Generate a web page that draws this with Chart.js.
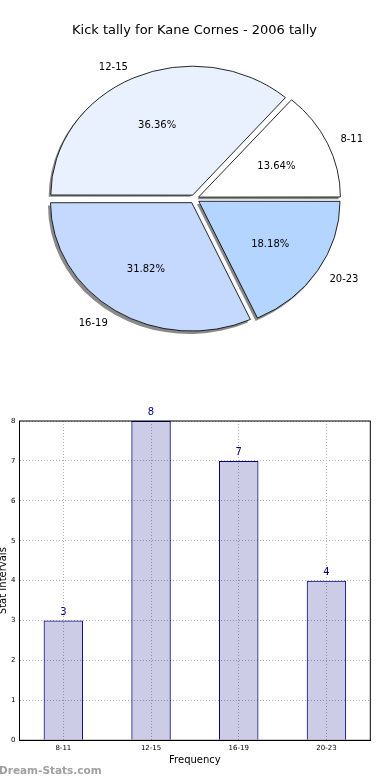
<!DOCTYPE html>
<html>
<head>
<meta charset="utf-8">
<script src="https://cdn.jsdelivr.net/npm/chart.js@4/dist/chart.umd.min.js"></script>
<style>
  html, body { margin: 0; padding: 0; background: #fff; }
  #page { position: relative; width: 390px; height: 780px; overflow: hidden; }
  #pieChart { position: absolute; left: 0; top: 0; }
  #barChart { position: absolute; left: 0; top: 390px; }
  #mark {
    position: absolute; left: -1px; top: 763px;
    font: bold 10.5px "DejaVu Sans", sans-serif; line-height: 14px; color: #a0a0a0;
  }
</style>
</head>
<body>
<div id="page">
  <canvas id="pieChart" width="390" height="359"></canvas>
  <canvas id="barChart" width="390" height="390"></canvas>
  <div id="mark">Dream-Stats.com</div>
</div>
<script>
// ===== data =====
const categories = ["8-11", "12-15", "16-19", "20-23"];
const kicks = [3, 8, 7, 4];
const sliceColors = ["#ffffff", "#eaf1fe", "#c5d8fe", "#b4d5ff"];

const chartTitle = "Kick tally for Kane Cornes - 2006 tally";
const xTitle = "Frequency";
const yTitle = "Stat Intervals";

Chart.defaults.font.family = "'DejaVu Sans', sans-serif";
Chart.defaults.color = "#000";

// ===== pie (matplotlib draws counter-clockwise from 3 o'clock, chart.js clockwise) =====
const pieLabels = categories.slice().reverse();
const pieValues = kicks.slice().reverse();
const pieColors = sliceColors.slice().reverse();
const total = kicks.reduce((a, b) => a + b, 0);

const PIE_R = 128;       // vertical radius
const STRETCH = 1.1;     // pie is an ellipse in the reference
const SHIFT = 5;         // explode distance

// chart.js moves an arc by offset/4*(1+fix), so undo that to get SHIFT px
function explodeOffset(ctx) {
  const v = ctx.dataset.data[ctx.dataIndex];
  const circ = (v / total) * Math.PI * 2;
  const fix = 1 - Math.sin(Math.min(Math.PI, circ));
  return (SHIFT * 4) / (1 + fix);
}

function arcGeom(arc) {
  const p = arc.getProps(["x", "y", "startAngle", "endAngle", "outerRadius"], true);
  p.mid = (p.startAngle + p.endAngle) / 2;
  return p;
}

const piePlugin = {
  id: "piePlugin",
  beforeDatasetsDraw(chart) {
    const ctx = chart.ctx;
    const meta = chart.getDatasetMeta(0);
    const cx = (chart.chartArea.left + chart.chartArea.right) / 2;
    const cy = (chart.chartArea.top + chart.chartArea.bottom) / 2;
    ctx.save();
    ctx.translate(cx, cy);
    ctx.scale(STRETCH, 1);
    ctx.translate(-cx, -cy);

    // shadows
    ctx.save();
    ctx.fillStyle = "rgba(60,60,60,0.6)";
    meta.data.forEach((arc) => {
      const g = arcGeom(arc);
      const ox = g.x + Math.cos(g.mid) * SHIFT - 2;
      const oy = g.y + Math.sin(g.mid) * SHIFT + 2.5;
      ctx.beginPath();
      ctx.moveTo(ox, oy);
      ctx.arc(ox, oy, g.outerRadius + 0.5, g.startAngle, g.endAngle);
      ctx.closePath();
      ctx.fill();
    });
    ctx.restore();
  },
  afterDatasetsDraw(chart) {
    const ctx = chart.ctx;
    ctx.restore();

    const meta = chart.getDatasetMeta(0);
    ctx.save();
    ctx.font = "10px 'DejaVu Sans', sans-serif";
    ctx.fillStyle = "#000";
    ctx.textBaseline = "middle";
    meta.data.forEach((arc, i) => {
      const g = arcGeom(arc);
      const c = Math.cos(g.mid), s = Math.sin(g.mid);
      // category label
      const d1 = SHIFT + 1.1 * g.outerRadius;
      ctx.textAlign = c >= 0 ? "left" : "right";
      ctx.fillText(pieLabels[i], g.x + c * d1 * STRETCH, g.y + s * d1 + 1.5);
      // percentage
      const d2 = SHIFT + 0.6 * g.outerRadius;
      ctx.textAlign = "center";
      const pct = ((pieValues[i] / total) * 100).toFixed(2) + "%";
      ctx.fillText(pct, g.x + c * d2 * STRETCH, g.y + s * d2 + 1.5);
    });
    ctx.restore();
  },
};

new Chart(document.getElementById("pieChart"), {
  type: "pie",
  data: {
    labels: pieLabels,
    datasets: [
      {
        data: pieValues,
        backgroundColor: pieColors,
        borderColor: "#000",
        borderWidth: 0.8,
        offset: explodeOffset,
        radius: PIE_R,
        clip: false,
      },
    ],
  },
  options: {
    responsive: false,
    animation: false,
    events: [],
    rotation: 90,
    layout: { padding: { top: 0, right: 1, bottom: 0, left: 0 } },
    plugins: {
      legend: { display: false },
      tooltip: { enabled: false },
      title: {
        display: true,
        text: chartTitle,
        color: "#000",
        font: { size: 13, weight: "normal" },
        padding: { top: 23, bottom: 0 },
      },
    },
  },
  plugins: [piePlugin],
});

// ===== bar =====
const barPlugin = {
  id: "barPlugin",
  afterDatasetsDraw(chart) {
    const ctx = chart.ctx;
    const a = chart.chartArea;
    ctx.save();
    ctx.strokeStyle = "#000";
    ctx.lineWidth = 1;
    ctx.strokeRect(a.left, a.top, a.right - a.left, a.bottom - a.top);

    ctx.font = "10px 'DejaVu Sans', sans-serif";
    ctx.fillStyle = "#00008b";
    ctx.textAlign = "center";
    ctx.textBaseline = "middle";
    chart.getDatasetMeta(0).data.forEach((bar, i) => {
      ctx.fillText(String(kicks[i]), bar.x, bar.y - 8.5);
    });
    ctx.restore();
  },
};

new Chart(document.getElementById("barChart"), {
  type: "bar",
  data: {
    labels: categories,
    datasets: [
      {
        data: kicks,
        backgroundColor: "rgba(0,0,128,0.2)",
        borderColor: "#000080",
        borderWidth: 1,
        barPercentage: 0.45,
        categoryPercentage: 1,
      },
    ],
  },
  options: {
    responsive: false,
    animation: false,
    events: [],
    layout: { padding: { top: 31, right: 19.7, bottom: 0, left: 0 } },
    plugins: {
      legend: { display: false },
      tooltip: { enabled: false },
    },
    scales: {
      x: {
        grid: { offset: false, color: "#b0b0b0", drawTicks: false },
        border: { color: "#000", width: 1, dash: [1, 2] },
        ticks: { font: { size: 7 }, padding: 4, maxRotation: 0, color: "#000" },
        title: {
          display: true,
          text: xTitle,
          font: { size: 10 },
          color: "#000",
          padding: { top: 0, bottom: 14 },
        },
        afterFit(scale) {
          scale.height = 39.7;
        },
      },
      y: {
        min: 0,
        max: 8,
        grid: { color: "#b0b0b0", drawTicks: false },
        border: { color: "#000", width: 1, dash: [1, 2] },
        ticks: { stepSize: 1, font: { size: 7 }, padding: 4, color: "#000" },
        title: {
          display: true,
          text: yTitle,
          font: { size: 10 },
          color: "#000",
          padding: { top: -3, bottom: 0 },
        },
        afterFit(scale) {
          scale.width = 19.5;
        },
      },
    },
  },
  plugins: [barPlugin],
});
</script>
</body>
</html>
